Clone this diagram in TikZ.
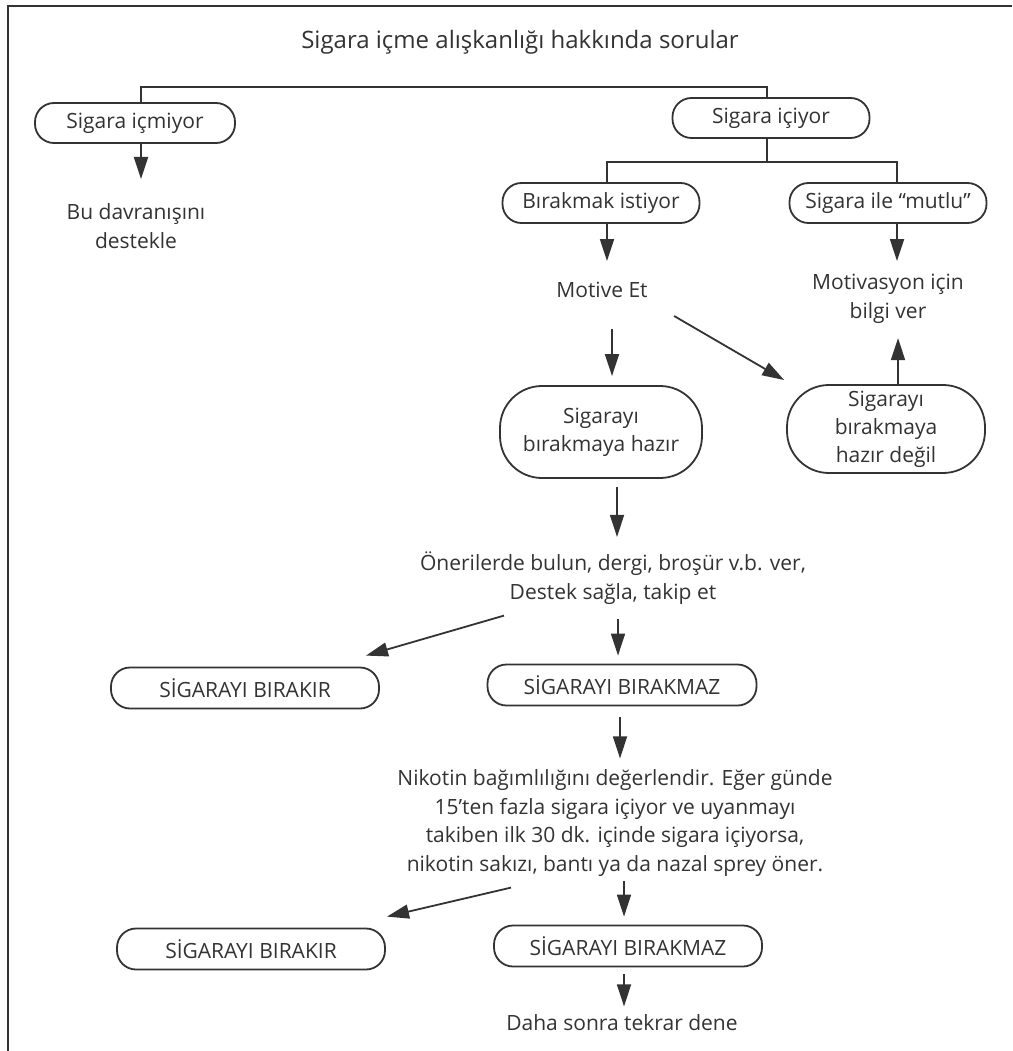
\documentclass[tikz,border=0pt]{standalone}
\usepackage{fontspec}
\setmainfont{Open Sans}
\usetikzlibrary{arrows.meta,calc}
\definecolor{ink}{HTML}{333333}
\begin{document}
\begin{tikzpicture}[x=1pt,y=-1pt,
  ln/.style={line width=1.8pt,draw=ink},
  arr/.style={ln,-{Triangle[length=22pt,width=14pt]}},
  pill/.style={draw=ink,line width=1.8pt,rounded corners=19pt,minimum height=40pt,
    inner sep=0pt,font=\fontsize{21}{28}\selectfont,text=ink,align=center},
  bigpill/.style={pill,rounded corners=42pt},
  txt/.style={align=center,font=\fontsize{21}{28.5}\selectfont,text=ink,inner sep=0pt}]
\useasboundingbox (0,0) rectangle (1012,1051);
\fill[white] (0,0) rectangle (1012,1051);
% frame
\draw[ink,line width=1.6pt] (8,1051) -- (8,6) -- (1012,6);
% title
\node[txt,font=\fontsize{24}{28}\selectfont] (title) at (520,42) {Sigara içme alışkanlığı hakkında sorular};
% boxes
\node[pill,minimum width=200pt] (n1) at (135,123) {Sigara içmiyor};
\node[pill,minimum width=197pt] (n2) at (771,118) {Sigara içiyor};
\node[pill,minimum width=197pt] (n3) at (601,203) {Bırakmak istiyor};
\node[pill,minimum width=197pt] (n4) at (888,203) {Sigara ile “mutlu”};
\node[bigpill,minimum width=202pt,minimum height=92pt] (n5) at (601,432) {Sigarayı\\bırakmaya hazır};
\node[bigpill,minimum width=198pt,minimum height=88pt] (n6) at (886,429) {Sigarayı\\bırakmaya\\hazır değil};
\node[pill,minimum width=268pt,minimum height=41pt] (n7) at (245,688) {SİGARAYI BIRAKIR};
\node[pill,minimum width=269pt,minimum height=41pt] (n8) at (622,685) {SİGARAYI BIRAKMAZ};
\node[pill,minimum width=268pt,minimum height=41pt] (n9) at (251,949) {SİGARAYI BIRAKIR};
\node[pill,minimum width=268pt,minimum height=41pt] (n10) at (628,946) {SİGARAYI BIRAKMAZ};
% texts
\node[txt] (t1) at (136,226) {Bu davranışını\\destekle};
\node[txt] (t2) at (602,290) {Motive Et};
\node[txt] (t3) at (888,299) {Motivasyon için\\bilgi ver};
\node[txt] (t4) at (613,578) {Önerilerde bulun, dergi, broşür v.b. ver,\\Destek sağla, takip et};
\node[txt] (t5) at (615,823) {Nikotin bağımlılığını değerlendir. Eğer günde\\15’ten fazla sigara içiyor ve uyanmayı\\takiben ilk 30 dk. içinde sigara içiyorsa,\\nikotin sakızı, bantı ya da nazal sprey öner.};
\node[txt] (t6) at (622,1023) {Daha sonra tekrar dene};
% bracket connectors
\coordinate (bl) at (141,87);
\coordinate (br) at (767,87);
\coordinate (fl) at (607,162);
\coordinate (fr) at (897,162);
\draw[ln] (bl |- n1.north) -- (bl) -- (br) -- (br |- n2.north);
\draw[ln] (br |- n2.south) -- (br |- fl);
\draw[ln] (fl |- n3.north) -- (fl) -- (fr) -- (fr |- n4.north);
% arrows
\coordinate (a1) at (141,179);
\coordinate (a2) at (607,261);
\coordinate (a3) at (897,261);
\draw[arr] (bl |- n1.south) -- (a1);
\draw[arr] (fl |- n3.south) -- (a2);
\draw[arr] (fr |- n4.south) -- (a3);
\draw[arr] ($(n5.north)+(11,-56)$) -- ($(n5.north)+(11,-9)$);
\draw[arr] ($(n6.west)+(-112,-113)$) -- ($(n6.west)+(-2,-49)$);
\draw[arr] ($(n6.north)+(12,0)$) -- ($(n6.north)+(12,-46)$);
\draw[arr] ($(n5.south)+(16,8)$) -- ($(n5.south)+(16,58)$);
\draw[arr] ($(n7.north)+(259,-51)$) -- ($(n7.north)+(121,-11)$);
\draw[arr] ($(n8.north)+(-4,-45)$) -- ($(n8.north)+(-4,-8)$);
\draw[arr] ($(n8.south)+(-2,11)$) -- ($(n8.south)+(-2,52)$);
\draw[arr] ($(n9.north)+(260,-40)$) -- ($(n9.north)+(136,-11)$);
\draw[arr] ($(n10.north)+(-4,-44)$) -- ($(n10.north)+(-4,-8)$);
\draw[arr] ($(n10.south)+(-4,7)$) -- ($(n10.south)+(-4,39)$);
\end{tikzpicture}
\end{document}
